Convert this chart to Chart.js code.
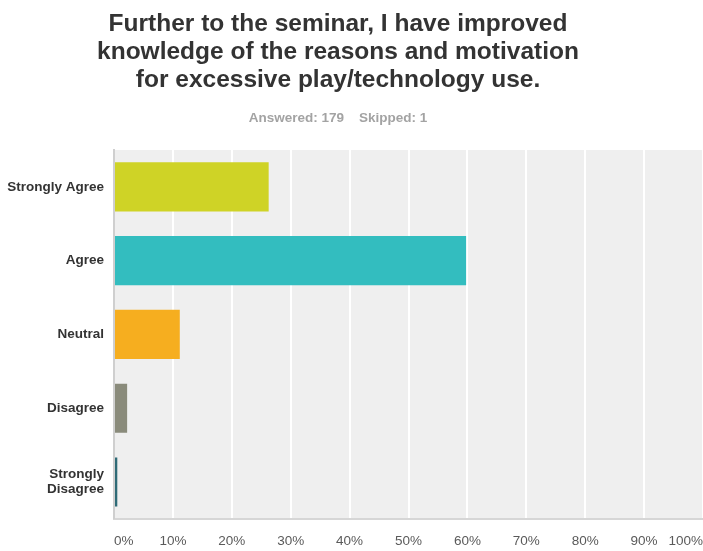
<!DOCTYPE html>
<html>
<head>
<meta charset="utf-8">
<title>Survey results</title>
<script src="https://cdn.jsdelivr.net/npm/chart.js@4.4.1/dist/chart.umd.min.js"></script>
<style>
  html, body { margin: 0; padding: 0; background: #fff; overflow: hidden; }
  canvas { display: block; }
</style>
</head>
<body>
<canvas id="surveyChart" width="703" height="551"></canvas>
<script>
// answer choices and share of respondents (%), 179 answered
var answers = ['Strongly Agree', 'Agree', 'Neutral', 'Disagree', ['Strongly', 'Disagree']];
var percents = [26.26, 59.78, 11.17, 2.23, 0.56];
var barColors = ['#cfd326', '#33bdbf', '#f6ae1f', '#8a8b7b', '#2f6b77'];
var percentTicks = [0, 10, 20, 30, 40, 50, 60, 70, 80, 90, 100];

var titleLines = [
    'Further to the seminar, I have improved',
    'knowledge of the reasons and motivation',
    'for excessive play/technology use.'
];
var subtitleText = 'Answered: 179    Skipped: 1';

// grey panel behind the bars
var plotBackground = {
    id: 'plotBackground',
    beforeDraw: function (chart) {
        var a = chart.chartArea;
        var ctx = chart.ctx;
        ctx.save();
        ctx.fillStyle = '#efefef';
        ctx.fillRect(a.left, a.top, a.right - a.left, a.bottom - a.top);
        ctx.restore();
    }
};

document.addEventListener('DOMContentLoaded', function () {
    var ctx = document.getElementById('surveyChart').getContext('2d');
    Chart.defaults.font.family = '"Liberation Sans", Arial, sans-serif';

    var surveyChart = new Chart(ctx, {
        type: 'bar',
        data: {
            labels: answers,
            datasets: [{
                data: percents,
                backgroundColor: barColors,
                borderWidth: 0,
                barPercentage: 0.665,
                categoryPercentage: 1
            }]
        },
        plugins: [plotBackground],
        options: {
            indexAxis: 'y',
            responsive: false,
            animation: false,
            layout: {
                padding: { left: -27, right: 0, top: 0, bottom: -12 }
            },
            plugins: {
                legend: { display: false },
                tooltip: { enabled: false },
                title: {
                    display: true,
                    text: titleLines,
                    color: '#333333',
                    font: { size: 24.5, weight: 'bold', lineHeight: 1.14 },
                    padding: { top: 10, bottom: 16 }
                },
                subtitle: {
                    display: true,
                    text: subtitleText,
                    color: '#a3a3a3',
                    font: { size: 13.5, weight: 'bold' },
                    padding: { top: 0, bottom: 24 }
                }
            },
            scales: {
                x: {
                    min: 0,
                    max: 100,
                    afterBuildTicks: function (scale) {
                        scale.ticks = percentTicks.map(function (v) { return { value: v }; });
                    },
                    // let the grey panel run to the right edge
                    afterFit: function (scale) {
                        scale.paddingLeft = 0;
                        scale.paddingRight = 0;
                    },
                    ticks: {
                        align: 'inner',
                        padding: 14,
                        color: '#5a5a5a',
                        font: { size: 13.5 },
                        callback: function (v) { return v + '%'; }
                    },
                    grid: {
                        color: '#ffffff',
                        lineWidth: 2,
                        drawTicks: false
                    },
                    border: { display: true, color: '#d6d6d6', width: 2 }
                },
                y: {
                    afterFit: function (scale) {
                        scale.width = 141;
                        scale.paddingTop = 0;
                        scale.paddingBottom = 0;
                    },
                    ticks: {
                        padding: 10,
                        color: '#333333',
                        font: { size: 13.5, weight: 'bold', lineHeight: 1.12 }
                    },
                    grid: { display: false, drawTicks: false },
                    border: { display: true, color: '#cfcfcf', width: 2 }
                }
            }
        }
    });
});
</script>
</body>
</html>
